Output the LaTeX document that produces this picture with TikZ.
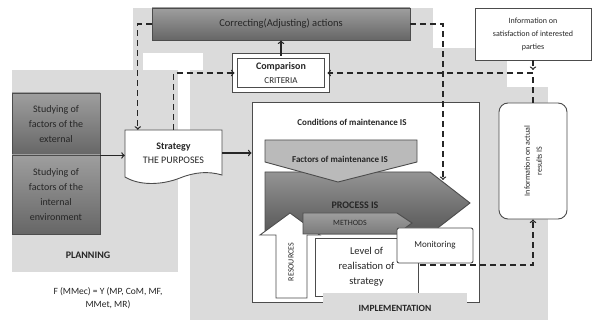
\documentclass[tikz,border=0pt]{standalone}
\usepackage{fontspec}
\setmainfont{Carlito}
\usetikzlibrary{arrows, positioning, calc}

\tikzset{
  darkbox/.style={draw=black!70, line width=0.9pt, rectangle, top color=black!38, bottom color=black!60, text=black!85, align=center},
  whitebox/.style={draw=black!70, line width=0.9pt, rectangle, fill=white, text=black!85, align=center},
  lbl/.style={text=black!85, align=center},
  outline/.style={draw=black!70, line width=0.9pt},
  bg/.style={fill=black!14},
  flow/.style={->, line width=1.3pt, black!85},
  fb/.style={->, line width=1.3pt, black!85, dash pattern=on 6pt off 4pt},
}
\newcommand{\fs}[2]{\fontsize{#1}{#2}\selectfont}

\begin{document}
\begin{tikzpicture}[x=1pt, y=-1pt]
\useasboundingbox (0,0) rectangle (597,320);

% Shaded areas behind the stages
\fill[bg] (12,70) rectangle (178,272);
\fill[bg] (133,8) rectangle (433,53);
\fill[bg] (133,53) rectangle (143,70);
\fill[bg] (203,53) rectangle (507,87);
\fill[bg] (433,48) rectangle (507,53);
\fill[bg] (190,70) rectangle (507,87);
\fill[bg] (190,87) rectangle (548,320);

% Top row
\node[darkbox, minimum width=258pt, minimum height=32pt, font=\fs{10.5}{12}] (correct) at (281,24) {Correcting(Adjusting) actions};

\node[whitebox, double, double distance=4pt, minimum width=92pt, minimum height=34pt, font=\fs{10}{14}] (comp) at (281,73) {\textbf{Comparison}\\{\fs{9}{10}CRITERIA}};

\node[whitebox, minimum width=116pt, minimum height=52pt, font=\fs{8}{13}] (satisf) at (533,34) {Information on\\satisfaction of interested\\parties};

% Planning
\node[darkbox, minimum width=88pt, minimum height=62pt, font=\fs{10}{15}] (ext) at (56,124) {Studying of\\factors of the\\external};
\node[darkbox, minimum width=88pt, minimum height=79pt, font=\fs{10}{15}] (int) at (56,194.5) {Studying of\\factors of the\\internal\\environment};

\node[lbl, font=\bfseries\fs{10}{12}] (planning) at (88,255) {PLANNING};
\node[lbl, font=\fs{9.5}{13}] (formula) at (108,298) {F (MMec) = Y (MP, CoM, MF,\\MMet, MR)};

% Strategy (document shape)
\draw[outline, fill=white] (125,130) -- (222,130) -- (222,175)
  .. controls (208,171) and (195,172) .. (180,178)
  .. controls (162,185) and (140,186) .. (125,177) -- cycle;
\node[lbl, minimum width=97pt, minimum height=46pt, font=\fs{10}{14}] (strategy) at (173.5,153) {\textbf{Strategy}\\THE PURPOSES};

% Implementation
\node[whitebox, minimum width=227pt, minimum height=200pt] (impl) at (365.5,202) {};
\node[lbl, font=\bfseries\fs{9}{11}] (cond) at (352,122) {Conditions of maintenance IS};

\draw[outline, top color=black!42, bottom color=black!66] (265,172) -- (430,172) -- (470,203) -- (430,234) -- (265,234) -- cycle;
\node[lbl, font=\bfseries\fs{10}{12}] (process) at (355,205) {PROCESS IS};

\draw[outline, fill=black!27] (265,140) -- (417,140) -- (417,162) -- (338,182) -- (265,162) -- cycle;
\node[lbl, font=\bfseries\fs{9}{11}] (factors) at (340,159) {Factors of maintenance IS};

\draw[outline, fill=white] (276,298) -- (276,235) -- (260,235) -- (290,213) -- (320,235) -- (307,235) -- (307,298) -- cycle;
\node[lbl, rotate=90, font=\fs{8}{10}] (resources) at (291,262) {RESOURCES};

\draw[outline, top color=black!38, bottom color=black!52] (303,213) -- (397,213) -- (412,223) -- (397,234) -- (303,234) -- cycle;
\node[lbl, font=\fs{8}{10}] (methods) at (350,223) {METHODS};

\node[whitebox, minimum width=103pt, minimum height=58pt, font=\fs{10.5}{15}] (level) at (366.5,267) {Level of\\realisation of\\strategy};
\node[whitebox, rounded corners=2pt, minimum width=76pt, minimum height=35pt, font=\fs{9}{11}] (monitor) at (435,245.5) {Monitoring};

\fill[bg] (323,293) rectangle (467,320);
\node[lbl, font=\bfseries\fs{9.5}{12}] (implabel) at (395,308) {IMPLEMENTATION};

% Results of the process
\node[whitebox, rounded corners=9pt, minimum width=68pt, minimum height=116pt] (results) at (533,161) {};
\node[lbl, rotate=90, font=\fs{8}{12}] (resultstxt) at (results.center) {Information on actual\\results IS};

% Connectors
\coordinate (jn) at (533,73);
\coordinate (procin) at (443,180);
\coordinate (monout) at (420,265);

\draw[flow] (ext.south east) -- (ext.south east -| strategy.west);
\draw[flow] (strategy.east) -- (impl.west |- strategy.east);
\draw[flow] (comp.north) -- (correct.south);

\draw[fb] (correct.west) -| ([xshift=13pt]strategy.north west);
\draw[fb] (strategy.north) |- (comp.west);
\draw[fb] (correct.east) -| (procin);
\draw[fb] (satisf.south) -- ([yshift=3pt]jn);
\draw[fb] (jn) -- (comp.east);
\draw[fb, -] (results.north) -- (jn);
\draw[fb] (monout) -| (results.south);

\end{tikzpicture}
\end{document}
